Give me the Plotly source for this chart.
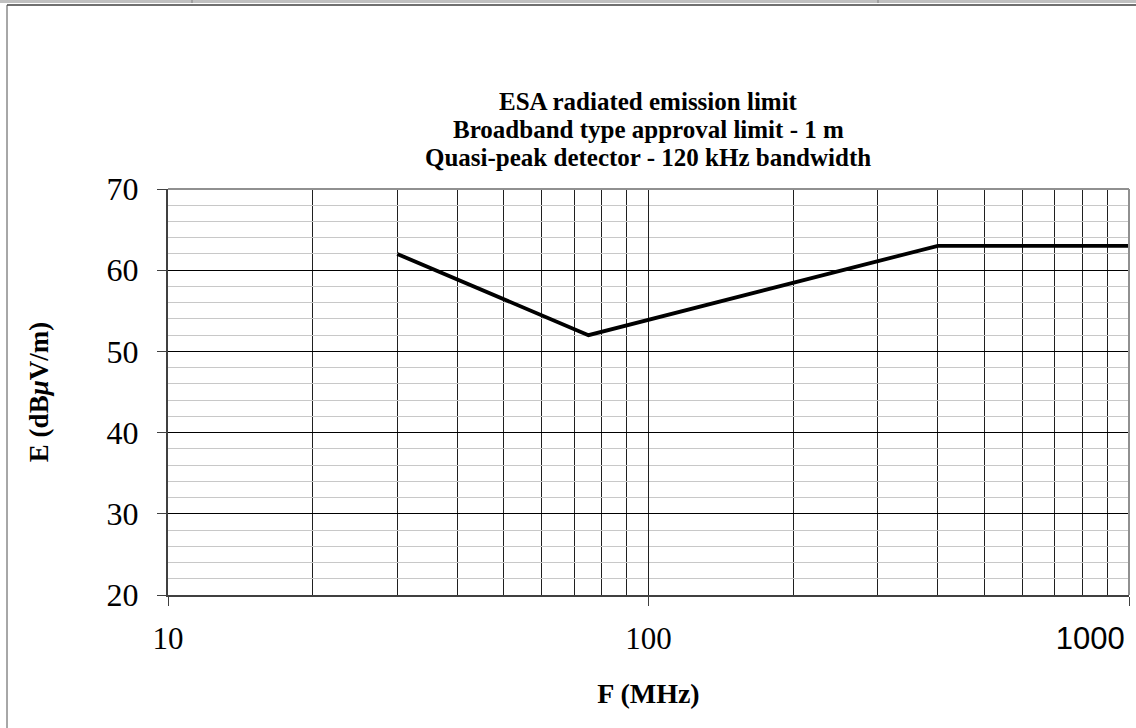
import plotly.graph_objects as go

# Data
freq_mhz = [30, 75, 400, 1000]
limit_dbuv = [62, 52, 63, 63]
x_major_ticks = [10, 100, 1000]
x_tick_labels = ["10", "100",
                 "<span style='font-family:Liberation Sans, Arial, sans-serif;font-size:31px'>1000</span>" + "&nbsp;" * 10]
x_minor_grid = [20, 30, 40, 50, 60, 70, 80, 90, 200, 300, 400, 500, 600, 700, 800, 900]
y_range = [20, 70]
title_lines = ["ESA radiated emission limit",
               "Broadband type approval limit - 1 m",
               "Quasi-peak detector - 120 kHz bandwidth"]

W, H = 1136, 728
L, R, T, B = 168, 7, 189, 133
pw, ph = W - L - R, H - T - B

def px_x(px):
    return (px - L) / pw

def px_y(py):
    return (H - B - py) / ph

SERIF = "Liberation Serif, Times New Roman, serif"

fig = go.Figure()
fig.add_trace(go.Scatter(
    x=freq_mhz, y=limit_dbuv, mode="lines",
    line=dict(color="black", width=3.8),
    showlegend=False, hoverinfo="x+y",
))

annotations = []
for i, line in enumerate(title_lines):
    annotations.append(dict(
        text=f"<b>{line}</b>", xref="paper", yref="paper",
        x=px_x(648), y=px_y(101 + 28 * i), xanchor="center", yanchor="middle",
        showarrow=False, font=dict(family=SERIF, size=25, color="black"),
    ))

fig.update_layout(
    width=W, height=H,
    margin=dict(l=L, r=R, t=T, b=B, autoexpand=False),
    paper_bgcolor="white", plot_bgcolor="white",
    font=dict(family=SERIF, color="black"),
    annotations=annotations,
    xaxis=dict(
        type="log", range=[1, 3],
        tickmode="array", tickvals=x_major_ticks, ticktext=x_tick_labels,
        ticks="outside", ticklen=9, tickcolor="#404040", tickwidth=1,
        ticklabelstandoff=6, ticklabeloverflow="allow",
        tickfont=dict(family=SERIF, size=31, color="black"),
        showgrid=True, gridcolor="#202020", gridwidth=1,
        minor=dict(tickmode="array", tickvals=x_minor_grid, showgrid=True,
                   gridcolor="#202020", gridwidth=1, ticks=""),
        showline=True, linecolor="#404040", linewidth=2, mirror=False,
        zeroline=False,
        title=dict(text="<b>F (MHz)</b>", font=dict(family=SERIF, size=28, color="black"), standoff=28),
    ),
    yaxis=dict(
        range=y_range, dtick=10, tick0=20,
        ticks="outside", ticklen=9, tickcolor="#404040", tickwidth=1,
        ticklabelstandoff=12,
        tickfont=dict(family=SERIF, size=32, color="black"),
        showgrid=True, gridcolor="#000000", gridwidth=1,
        minor=dict(dtick=2, showgrid=True, gridcolor="#c8c8c8", gridwidth=1, ticks=""),
        showline=True, linecolor="#404040", linewidth=2, mirror=False,
        zeroline=False,
        title=dict(text="<b>E (dB<i>μ</i>V/m)</b>", font=dict(family=SERIF, size=27, color="black"), standoff=50),
    ),
    shapes=[
        dict(type="line", xref="paper", yref="paper", x0=0, x1=1, y0=1, y1=1,
             line=dict(color="#909090", width=2)),
        dict(type="line", xref="paper", yref="paper", x0=1, x1=1, y0=0, y1=1,
             line=dict(color="#909090", width=2)),
        dict(type="rect", xref="paper", yref="paper",
             x0=px_x(0), x1=px_x(1136), y0=px_y(0), y1=px_y(3),
             line=dict(width=0), fillcolor="#c0c0c0", layer="above"),
        dict(type="line", xref="paper", yref="paper",
             x0=px_x(7), x1=px_x(1140), y0=px_y(5), y1=px_y(5),
             line=dict(color="#707070", width=2)),
        dict(type="line", xref="paper", yref="paper",
             x0=px_x(7), x1=px_x(7), y0=px_y(5), y1=px_y(735),
             line=dict(color="#505050", width=1)),
        dict(type="line", xref="paper", yref="paper",
             x0=px_x(192), x1=px_x(192), y0=px_y(0), y1=px_y(3),
             line=dict(color="#808080", width=1)),
        dict(type="line", xref="paper", yref="paper",
             x0=px_x(878), x1=px_x(878), y0=px_y(0), y1=px_y(3),
             line=dict(color="#808080", width=1)),
    ],
)

fig.write_html("out.html", config={"displayModeBar": False},
               post_script="document.body.style.margin='0px';document.body.style.overflow='hidden';")
